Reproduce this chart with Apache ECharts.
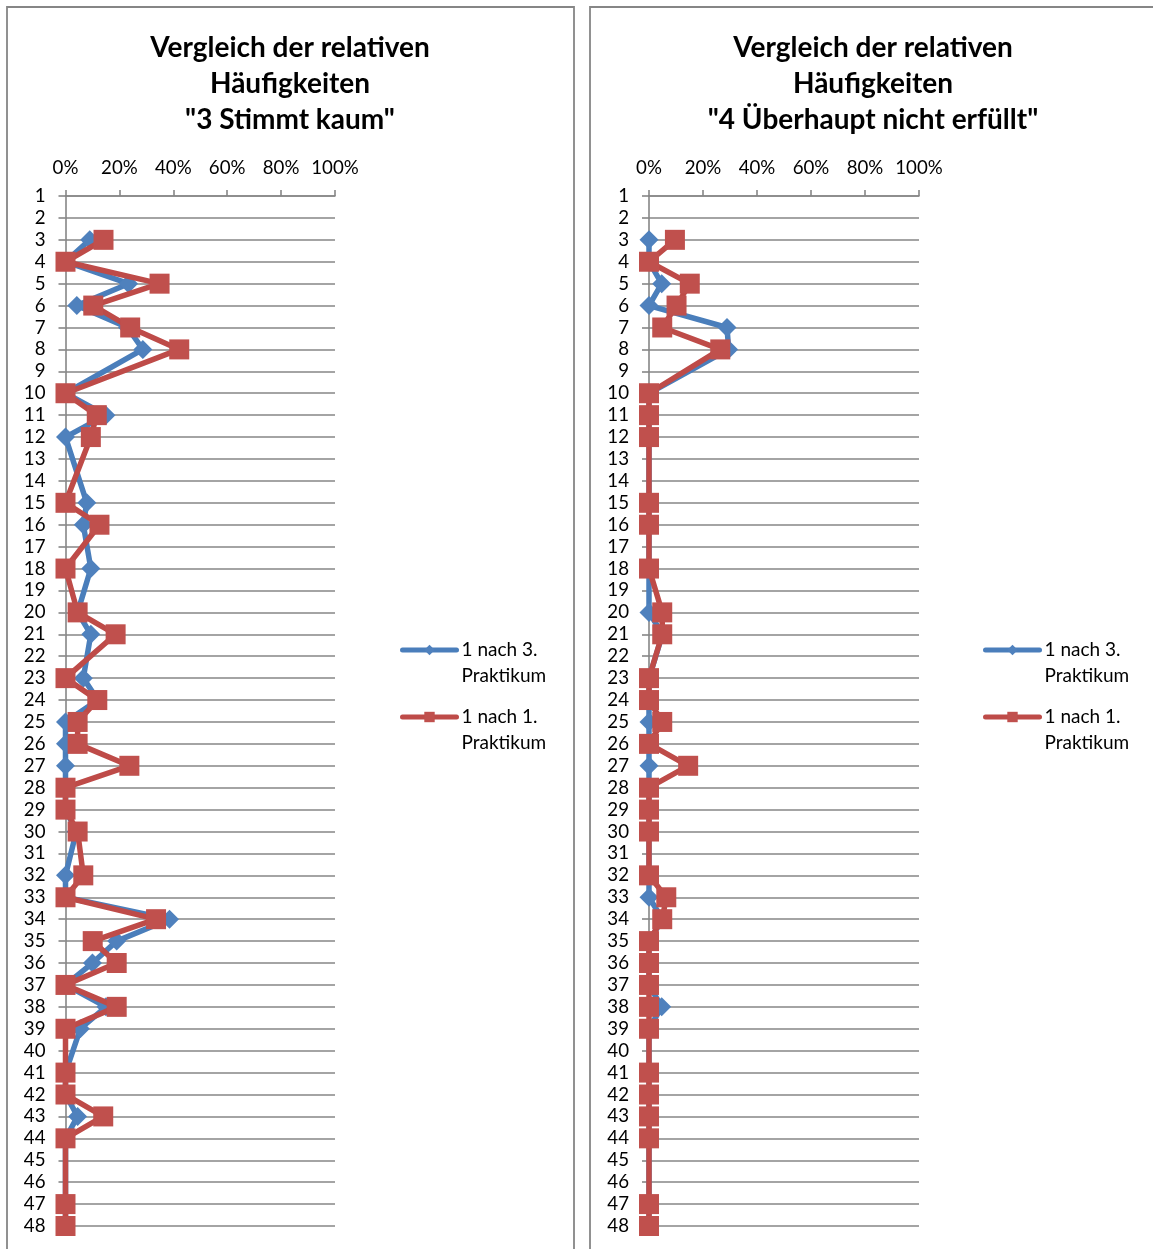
<!DOCTYPE html>
<html>
<head>
<meta charset="utf-8">
<script src="https://cdn.jsdelivr.net/npm/echarts@6/dist/echarts.min.js"></script>
<style>
  html, body { margin: 0; padding: 0; background: #ffffff; }
  #chart { width: 1153px; height: 1249px; }
</style>
</head>
<body>
<div id="chart"></div>
<script>
// Item numbers (rows of both panels)
const items = ['1','2','3','4','5','6','7','8','9','10','11','12','13','14','15','16',
  '17','18','19','20','21','22','23','24','25','26','27','28','29','30','31','32',
  '33','34','35','36','37','38','39','40','41','42','43','44','45','46','47','48'];

// Percentage axis
const pctMin = 0, pctMax = 100, pctStep = 20;

// Series names
const nameAfter3 = '1 nach 3. Praktikum';
const nameAfter1 = '1 nach 1. Praktikum';

// Panel titles
const titleKaum = 'Vergleich der relativen\nHäufigkeiten\n"3 Stimmt kaum"';
const titleNicht = 'Vergleich der relativen\nHäufigkeiten\n"4 Überhaupt nicht erfüllt"';

// "3 Stimmt kaum" – relative frequencies in %, null = no answer for this item
const kaumAfter3 = [null, null, 9, 0, 23.4, 4.2, 23, 28.7, null, 0,
  15, 0, null, null, 7.9, 6.6, null, 9.4, null, 4.5,
  9.4, null, 6.6, 12, 0, 0, 0, 0, 0, 4,
  null, 0, 0, 38.6, 19, 10, 0, 15, 5.5, null,
  0, 0, 4.5, 0, null, null, 0, 0];
const kaumAfter1 = [null, null, 14.1, 0, 34.9, 10.3, 24, 42.2, null, 0,
  11.6, 9.4, null, null, 0, 12.6, null, 0, null, 4.5,
  18.6, null, 0, 11.8, 4.5, 4.5, 23.7, 0, 0, 4.5,
  null, 6.6, 0, 33.6, 10.1, 19, 0, 19, 0, null,
  0, 0, 14, 0, null, null, 0, 0];

// "4 Überhaupt nicht erfüllt" – relative frequencies in %
const nichtAfter3 = [null, null, 0, 0, 4.7, 0, 28.9, 29.5, null, 0,
  0, 0, null, null, 0, 0, null, 0, null, 0,
  5, null, 0, 0, 0, 0, 0, 0, 0, 0,
  null, 0, 0, 5, 0, 0, 0, 4.7, 0, null,
  0, 0, 0, 0, null, null, 0, 0];
const nichtAfter1 = [null, null, 9.6, 0, 15.1, 10.2, 4.9, 26.4, null, 0,
  0, 0, null, null, 0, 0, null, 0, null, 4.9,
  4.9, null, 0, 0, 4.9, 0, 14.5, 0, 0, 0,
  null, 0, 6.4, 4.9, 0, 0, 0, 0, 0, null,
  0, 0, 0, 0, null, null, 0, 0];

const FONT = 'Lato';
const GRID_GRAY = '#868686';
const BLUE = '#4F81BD', BLUE_LINE = '#4A7EBB';
const RED = '#C0504D', RED_LINE = '#BE4B48';

const chart = echarts.init(document.getElementById('chart'), null, { renderer: 'canvas' });

function xAxisFor(gridIndex) {
  return {
    type: 'value', gridIndex, position: 'top',
    min: pctMin, max: pctMax, interval: pctStep,
    axisLine: { show: true, lineStyle: { color: GRID_GRAY, width: 1.6 } },
    axisTick: { show: true, length: 6, lineStyle: { color: GRID_GRAY, width: 1.6 } },
    axisLabel: { formatter: '{value}%', margin: 19, color: '#000', fontFamily: FONT, fontSize: 18.7 },
    splitLine: { show: false }
  };
}
function yAxisFor(gridIndex) {
  return {
    type: 'category', gridIndex, data: items, inverse: true, boundaryGap: false,
    axisLine: { show: true, lineStyle: { color: GRID_GRAY, width: 1.6 } },
    axisTick: { show: true, length: 7, interval: 0, lineStyle: { color: GRID_GRAY, width: 1.6 } },
    axisLabel: { interval: 0, margin: 20, color: '#000', fontFamily: FONT, fontSize: 18.7 },
    splitLine: { show: true, interval: 0, lineStyle: { color: GRID_GRAY, width: 1.6 } }
  };
}
function seriesFor(name, data, idx, blue) {
  return {
    name, type: 'line', data, xAxisIndex: idx, yAxisIndex: idx,
    connectNulls: true,
    symbol: blue ? 'diamond' : 'rect',
    symbolSize: blue ? 19 : 20,
    z: blue ? 2 : 3,
    lineStyle: { color: blue ? BLUE_LINE : RED_LINE, width: 5.5, join: 'round' },
    itemStyle: { color: blue ? BLUE : RED },
    emphasis: { disabled: true },
    animation: false
  };
}
function legendFor(name, left, top) {
  return {
    data: [name], left, top, padding: 0,
    itemWidth: 54, itemHeight: 13,
    selectedMode: false,
    lineStyle: { width: 5, cap: 'round' },
    formatter: n => '\n' + n.replace(' Praktikum', '\nPraktikum'),
    textStyle: { color: '#000', fontFamily: FONT, fontSize: 19, lineHeight: 26 }
  };
}
function titleFor(text, x) {
  return {
    text, left: x, top: 25, textAlign: 'center',
    textStyle: { color: '#000', fontFamily: FONT, fontWeight: 'bold', fontSize: 28, lineHeight: 36 }
  };
}

chart.setOption({
  backgroundColor: '#ffffff',
  animation: false,
  title: [titleFor(titleKaum, 285), titleFor(titleNicht, 868)],
  grid: [
    { left: 65.5, top: 196, width: 269.5, height: 1030 },
    { left: 649, top: 196, width: 270, height: 1030 }
  ],
  xAxis: [xAxisFor(0), xAxisFor(1)],
  yAxis: [yAxisFor(0), yAxisFor(1)],
  legend: [
    legendFor(nameAfter3, 400, 611), legendFor(nameAfter1, 400, 678),
    legendFor(nameAfter3, 983, 611), legendFor(nameAfter1, 983, 678)
  ],
  graphic: [
    { type: 'rect', shape: { x: 7, y: 7, width: 567, height: 1260 }, silent: true,
      style: { fill: null, stroke: GRID_GRAY, lineWidth: 1.8 }, z: -10 },
    { type: 'rect', shape: { x: 590, y: 7, width: 580, height: 1260 }, silent: true,
      style: { fill: null, stroke: GRID_GRAY, lineWidth: 1.8 }, z: -10 }
  ],
  series: [
    seriesFor(nameAfter3, kaumAfter3, 0, true),
    seriesFor(nameAfter1, kaumAfter1, 0, false),
    seriesFor(nameAfter3, nichtAfter3, 1, true),
    seriesFor(nameAfter1, nichtAfter1, 1, false)
  ]
});
</script>
</body>
</html>
